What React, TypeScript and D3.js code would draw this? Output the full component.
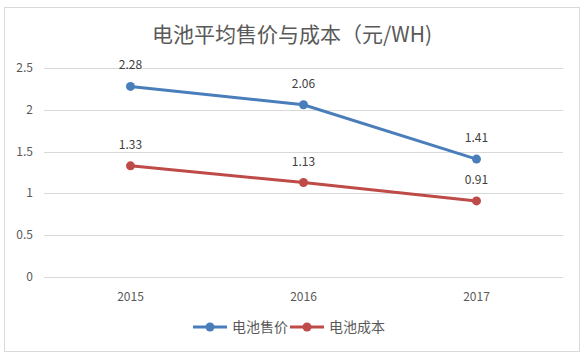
import React, { useRef, useEffect } from 'react';
import * as d3 from 'd3';

const years = ['2015', '2016', '2017'];
const priceValues = [2.28, 2.06, 1.41];
const costValues = [1.33, 1.13, 0.91];
const yTicks = [0, 0.5, 1, 1.5, 2, 2.5];
const seriesNames = ['电池售价', '电池成本'];
const seriesColors = ['#4a7ebb', '#be4b48'];

const FONT = '"Noto Sans CJK SC", "Open Sans", sans-serif';

const App = () => {
  const svgRef = useRef<SVGSVGElement>(null);
  const width = 586;
  const height = 353;

  useEffect(() => {
    const svg = d3.select(svgRef.current);
    svg.selectAll('*').remove();

    const margin = { top: 68, right: 23, bottom: 76, left: 44 };

    svg.append('rect')
      .attr('x', 4.5).attr('y', 7.5)
      .attr('width', 575).attr('height', 344)
      .attr('fill', '#fff').attr('stroke', '#d9d9d9');

    svg.append('text')
      .attr('x', 292).attr('y', 42)
      .attr('text-anchor', 'middle')
      .style('font-family', FONT).style('font-size', '21px')
      .attr('fill', '#595959')
      .text('电池平均售价与成本（元/WH)');

    const x = d3.scaleBand()
      .domain(years)
      .range([margin.left, width - margin.right]);

    const y = d3.scaleLinear()
      .domain([0, 2.5])
      .range([height - margin.bottom, margin.top]);

    const g = svg.append('g');

    // gridlines
    g.selectAll('line.grid')
      .data(yTicks)
      .join('line')
      .attr('class', 'grid')
      .attr('x1', margin.left).attr('x2', width - margin.right)
      .attr('y1', d => Math.round(y(d)) + 0.5).attr('y2', d => Math.round(y(d)) + 0.5)
      .attr('stroke', '#d9d9d9');

    g.selectAll('text.ytick')
      .data(yTicks)
      .join('text')
      .attr('class', 'ytick')
      .attr('x', 33).attr('y', d => y(d) + 4)
      .attr('text-anchor', 'end')
      .style('font-family', FONT).style('font-size', '12px')
      .attr('fill', '#595959')
      .text(d => String(d));

    g.selectAll('text.xtick')
      .data(years)
      .join('text')
      .attr('class', 'xtick')
      .attr('x', d => x(d)! + x.bandwidth() / 2).attr('y', 301)
      .attr('text-anchor', 'middle')
      .style('font-family', FONT).style('font-size', '12px')
      .attr('fill', '#595959')
      .text(d => d);

    const line = d3.line<number>()
      .x((_, i) => x(years[i])! + x.bandwidth() / 2)
      .y(d => y(d));

    [priceValues, costValues].forEach((vals, si) => {
      g.append('path')
        .datum(vals)
        .attr('fill', 'none')
        .attr('stroke', seriesColors[si])
        .attr('stroke-width', 3)
        .attr('stroke-linecap', 'round')
        .attr('d', line);

      g.selectAll(`circle.s${si}`)
        .data(vals)
        .join('circle')
        .attr('class', `s${si}`)
        .attr('cx', (_, i) => x(years[i])! + x.bandwidth() / 2)
        .attr('cy', d => y(d))
        .attr('r', 4.5)
        .attr('fill', seriesColors[si]);

      g.selectAll(`text.l${si}`)
        .data(vals)
        .join('text')
        .attr('class', `l${si}`)
        .attr('x', (_, i) => x(years[i])! + x.bandwidth() / 2)
        .attr('y', d => y(d) - 17)
        .attr('text-anchor', 'middle')
        .style('font-family', FONT).style('font-size', '12px')
        .attr('fill', '#404040')
        .text(d => d.toFixed(2));
    });

    // legend
    const legendX = [193, 290];
    seriesNames.forEach((name, i) => {
      const lg = svg.append('g').attr('transform', `translate(${legendX[i]},327)`);
      lg.append('line')
        .attr('x1', 0).attr('x2', 34).attr('y1', 0).attr('y2', 0)
        .attr('stroke', seriesColors[i]).attr('stroke-width', 3);
      lg.append('circle').attr('cx', 17).attr('cy', 0).attr('r', 4.5).attr('fill', seriesColors[i]);
      lg.append('text')
        .attr('x', 39).attr('y', 5)
        .style('font-family', FONT).style('font-size', '14px')
        .attr('fill', '#595959')
        .text(name);
    });
  }, []);

  return (
    <div style={{ position: 'fixed', top: 0, left: 0 }}>
      <svg ref={svgRef} width={width} height={height} style={{ display: 'block' }} />
    </div>
  );
};

export default App;
